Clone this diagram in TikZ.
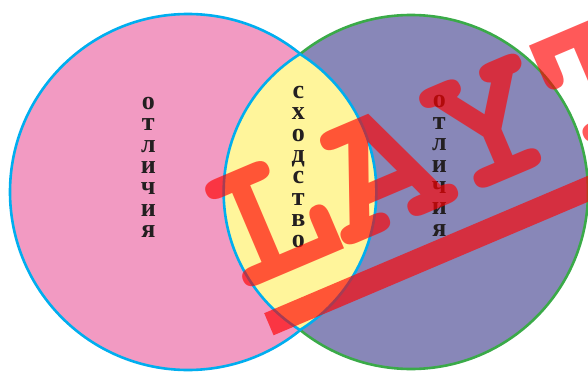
\documentclass[tikz,border=0pt]{standalone}
\usepackage{fontspec}
\setmainfont{Liberation Serif}
\newfontfamily\wmfont{TeX Gyre Cursor}
\definecolor{pinkc}{HTML}{F29AC2}
\definecolor{purplec}{HTML}{8887B8}
\definecolor{yellowc}{HTML}{FFF59B}
\definecolor{bluec}{HTML}{00AEEF}
\definecolor{greenc}{HTML}{3AAA48}
\definecolor{textc}{HTML}{231F20}
\tikzset{
  letter/.style={anchor=base, inner sep=0pt, text=textc, font=\fontsize{26}{26}\selectfont\bfseries},
  rim/.style={line width=2.6pt},
  wm/.style={fill=red, fill opacity=0.65, text opacity=0.65}
}
\begin{document}
\begin{tikzpicture}[x=1pt,y=1pt]
\useasboundingbox (0,0) rectangle (588,373);
\clip (0,0) rectangle (588,373);
% left circle
\filldraw[fill=pinkc, draw=bluec, rim] (188,181) circle (178);
% right circle
\filldraw[fill=purplec, draw=greenc, rim] (411,181) circle (177);
% lens
\filldraw[fill=yellowc, draw=bluec, rim] (300,319)
  arc[start angle=122.1, end angle=237.9, radius=162.9]
  arc[start angle=-57.9, end angle=57.9, radius=162.9] -- cycle;
% texts
\foreach \c [count=\i from 0] in {о,т,л,и,ч,и,я}
  \node[letter] (lo\i) at (148.3, 263.8-21.4*\i) {\c};
\foreach \c [count=\i from 0] in {с,х,о,д,с,т,в,о}
  \node[letter] (mo\i) at (298.3, 274.4-21.3*\i) {\c};
\foreach \c [count=\i from 0] in {о,т,л,и,ч,и,я}
  \node[letter] (ro\i) at (439.3, 265.1-21.4*\i) {\c};
% watermark
\begin{scope}[shift={(511,195)}, rotate=23, transform shape]
  \fill[wm] (-280,-52) rectangle (700,-28);
  \node[wm, fill=none, anchor=base, inner sep=0pt, text=red,
        font=\wmfont\bfseries\fontsize{196}{196}\selectfont] (mark) at (-57.6,0) {LAYT};
\end{scope}
\end{tikzpicture}
\end{document}
